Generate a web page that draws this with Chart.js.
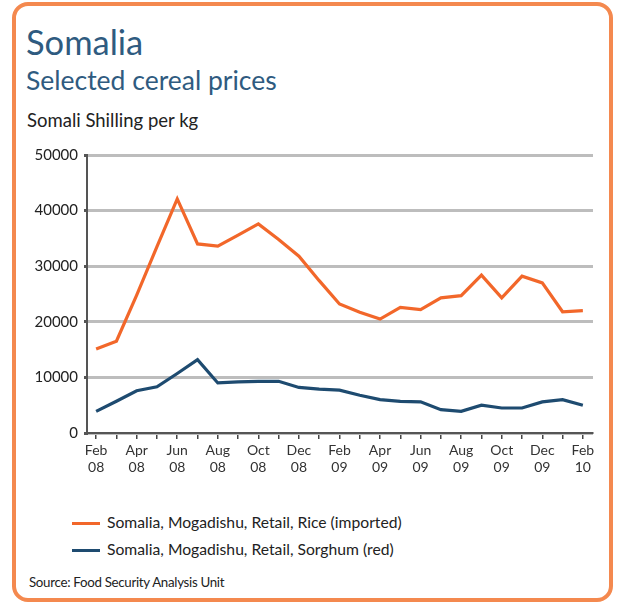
<!DOCTYPE html>
<html>
<head>
<meta charset="utf-8">
<script src="https://cdn.jsdelivr.net/npm/chart.js@4/dist/chart.umd.min.js"></script>
<style>
  html, body { margin: 0; padding: 0; background: #fff; }
  body { width: 622px; height: 604px; position: relative; overflow: hidden; font-family: Lato, "Open Sans", sans-serif; }
  .frame { position: absolute; left: 12px; top: 2px; width: 593px; height: 592px; border: 4px solid #f4894f; border-radius: 16px; }
  .t { position: absolute; white-space: nowrap; line-height: 1; }
  #title { left: 26px; top: 25px; font-size: 34.5px; color: #2f5b80; }
  #subtitle { left: 26px; top: 66.5px; font-size: 26.5px; color: #2f5b80; }
  #unit { left: 27px; top: 111px; font-size: 18.5px; color: #222; }
  #chartBox { position: absolute; left: 0; top: 140px; width: 622px; height: 360px; }
  .leg { position: absolute; left: 72px; height: 20px; }
  .leg .sw { position: absolute; left: 0; top: 9px; width: 28px; height: 3px; }
  .leg .lbl { position: absolute; left: 35px; top: 2px; font-size: 15.7px; color: #222; white-space: nowrap; line-height: 1; }
  #source { left: 29px; top: 576px; font-size: 13.3px; color: #222; letter-spacing: -0.3px; }
</style>
</head>
<body>
<div class="frame"></div>
<div class="t" id="title">Somalia</div>
<div class="t" id="subtitle">Selected cereal prices</div>
<div class="t" id="unit">Somali Shilling per kg</div>
<div id="chartBox"><canvas id="c" width="622" height="360"></canvas></div>
<div id="legend"></div>
<div class="t" id="source">Source: Food Security Analysis Unit</div>
<script>
// Monthly retail prices, Mogadishu, Feb 2008 – Feb 2010 (Somali Shilling per kg)
const months = ['Feb','Mar','Apr','May','Jun','Jul','Aug','Sep','Oct','Nov','Dec','Jan',
                'Feb','Mar','Apr','May','Jun','Jul','Aug','Sep','Oct','Nov','Dec','Jan','Feb'];
const years  = ['08','08','08','08','08','08','08','08','08','08','08','09',
                '09','09','09','09','09','09','09','09','09','09','09','10','10'];
const riceImported = [15100, 16500, 24800, 33500, 42100, 34000, 33600, 35600, 37600, 34800, 31800, 27400,
                      23200, 21700, 20500, 22600, 22200, 24300, 24700, 28400, 24300, 28200, 27000, 21800, 22000];
const sorghumRed   = [3900, 5700, 7600, 8300, 10700, 13200, 9000, 9200, 9300, 9300, 8200, 7900,
                      7700, 6800, 6000, 5700, 5600, 4200, 3900, 5000, 4500, 4500, 5600, 6000, 5000];
const yTicks = [0, 10000, 20000, 30000, 40000, 50000];
const seriesNames = ['Somalia, Mogadishu, Retail, Rice (imported)', 'Somalia, Mogadishu, Retail, Sorghum (red)'];
const seriesColors = ['#f2672a', '#1e4b70'];

const toPoints = arr => arr.map((v, i) => ({ x: i, y: v }));

// HTML legend
const legend = document.getElementById('legend');
seriesNames.forEach((name, i) => {
  const row = document.createElement('div');
  row.className = 'leg';
  row.style.top = (513 + i * 26.5) + 'px';
  row.innerHTML = '<div class="sw" style="background:' + seriesColors[i] + '"></div><div class="lbl">' + name + '</div>';
  legend.appendChild(row);
});

const axisFont = { family: 'Lato, "Open Sans", sans-serif', size: 15 };

new Chart(document.getElementById('c'), {
  type: 'line',
  data: {
    datasets: [
      { label: seriesNames[0], data: toPoints(riceImported), borderColor: seriesColors[0], borderWidth: 3.2, pointRadius: 0, tension: 0, fill: false },
      { label: seriesNames[1], data: toPoints(sorghumRed), borderColor: seriesColors[1], borderWidth: 3.2, pointRadius: 0, tension: 0, fill: false }
    ]
  },
  options: {
    responsive: false,
    animation: false,
    events: [],
    layout: { padding: { top: 13, right: 29, left: 0, bottom: 0 } },
    plugins: { legend: { display: false }, tooltip: { enabled: false } },
    scales: {
      x: {
        type: 'linear',
        min: -0.45,
        max: 24.5,
        afterBuildTicks: s => { s.ticks = months.map((m, i) => ({ value: i })); },
        afterFit: s => { s.height = 67; },
        grid: { drawOnChartArea: false, drawTicks: true, tickLength: 6, tickColor: '#444', lineWidth: 1.5 },
        border: { display: true, color: '#555', width: 2 },
        ticks: {
          autoSkip: false,
          maxRotation: 0,
          padding: 3,
          color: '#333',
          font: { family: axisFont.family, size: 14 },
          callback: (v) => (v % 2 === 0 ? [months[v], years[v]] : '')
        }
      },
      y: {
        min: 0,
        max: 50000,
        afterBuildTicks: s => { s.ticks = yTicks.map(v => ({ value: v })); },
        afterFit: s => { s.width = 87; },
        grid: { color: '#bdbdbd', lineWidth: 3, drawTicks: true, tickLength: 3, tickColor: '#555' },
        border: { display: true, color: '#555', width: 2 },
        ticks: { padding: 6, color: '#222', font: axisFont, callback: v => String(v) }
      }
    }
  }
});
</script>
</body>
</html>
